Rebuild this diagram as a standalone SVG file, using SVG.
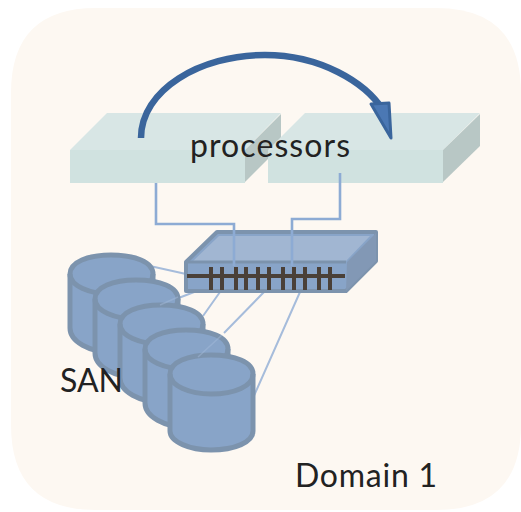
<svg xmlns="http://www.w3.org/2000/svg" width="521" height="512" viewBox="0 0 521 512">
<style>
.t{font-family:Lato,"Open Sans",sans-serif;fill:#222222;font-size:32px}
.c{fill:#88a4c8;stroke:#7c93ad;stroke-width:5;stroke-linejoin:round}
.e{fill:none;stroke:#7c93ad;stroke-width:5}
.l{fill:none;stroke:#a6bcdb;stroke-width:2}
.f{fill:none;stroke:#a6bcdb;stroke-width:1.500;opacity:.45}
.u{fill:none;stroke:#8dabd4;stroke-width:2.600}
.top{fill:#d8e6e5}.fr{fill:#d0e2e0}.sd{fill:#b8c7c5}
.p{stroke:#4a4038;stroke-width:4;fill:none}
</style>
<rect x="0" y="0" width="521" height="512" fill="#ffffff"/>
<path d="M96 8H436Q521 8 521 93V425Q521 510 436 510H96Q11 510 11 425V93Q11 8 96 8Z" fill="#fdf8f2"/>
<g id="connectors">
<path class="l" d="M150 266L186 274M176 299L202 289M203 316L220 292M224 333L264 292M253 398L300 292"/>
</g>
<g id="san">
<g id="disk1"><path class="c" d="M70 274V328C70 342 90 352 111 352C135 352 153 342 153 328V274C153 262 135 255 111 255C88 255 70 262 70 274Z"/><path class="e" d="M70 274C70 286 90 294 111 294C135 294 153 286 153 274"/></g>
<g id="disk2"><path class="c" d="M95 299V353C95 367 115 377 136 377C160 377 178 367 178 353V299C178 287 160 280 136 280C113 280 95 287 95 299Z"/><path class="e" d="M95 299C95 311 115 319 136 319C160 319 178 311 178 299"/></g>
<g id="disk3"><path class="c" d="M120 324V378C120 392 140 402 161 402C185 402 203 392 203 378V324C203 312 185 305 161 305C138 305 120 312 120 324Z"/><path class="e" d="M120 324C120 336 140 344 161 344C185 344 203 336 203 324"/></g>
<g id="disk4"><path class="c" d="M145 349V403C145 417 165 427 186 427C210 427 228 417 228 403V349C228 337 210 330 186 330C163 330 145 337 145 349Z"/><path class="e" d="M145 349C145 361 165 369 186 369C210 369 228 361 228 349"/></g>
<g id="disk5"><path class="c" d="M170 374V431C170 442 190 450 211 450C235 450 253 442 253 431V374C253 362 235 355 211 355C188 355 170 362 170 374Z"/><path class="e" d="M170 374C170 386 190 394 211 394C235 394 253 386 253 374"/></g>
<path class="f" d="M160 305L178 297M198 357L222 335"/>
</g>
<g id="switch">
<path d="M186 262L217 232H376V261L346 291H186Z" fill="#88a4c8" stroke="#7c93ad" stroke-width="4" stroke-linejoin="round"/>
<path d="M192 262L219 236H370L346 261Z" fill="#a1b6d2"/>
<path d="M347 262L376 233V261L346 291Z" fill="#8298b5"/>
<path d="M186 262H346" stroke="#7c93ad" stroke-width="3"/>
<path class="p" d="M187 276H345"/>
<path class="p" d="M211 267V290M222 267V290M236 267V290M246 267V290M258 267V290M269 267V290M283 267V290M294 267V290M305 267V290M319 267V290M330 267V290"/>
</g>
<g id="processor-1">
<path class="top" d="M70 150L107 113H281L245 150Z"/>
<path class="sd" d="M245 150L281 114V146L245 182Z"/>
<rect class="fr" x="70" y="150" width="175" height="33"/>
</g>
<g id="processor-2">
<path class="top" d="M268 150L305 113H480L443 150Z"/>
<path class="sd" d="M443 150L480 114V146L443 182Z"/>
<rect class="fr" x="268" y="150" width="175" height="33"/>
</g>
<g id="links">
<path class="u" d="M156 183V224H234V266"/>
<path class="u" d="M340 173V219H292V266"/>
</g>
<g id="arrow">
<path d="M141 138C141 90 200 55 265 55C320 55 365 82 383 110" fill="none" stroke="#3a659c" stroke-width="6.500"/>
<path d="M371 104L389 103L391 138Z" fill="#4b78b4" stroke="#3a659c" stroke-width="3" stroke-linejoin="round"/>
</g>
<text class="t" x="190" y="157" textLength="160" lengthAdjust="spacing">processors</text>
<text class="t" x="60" y="392">SAN</text>
<text class="t" x="295" y="487" textLength="142" lengthAdjust="spacing">Domain 1</text>
</svg>
